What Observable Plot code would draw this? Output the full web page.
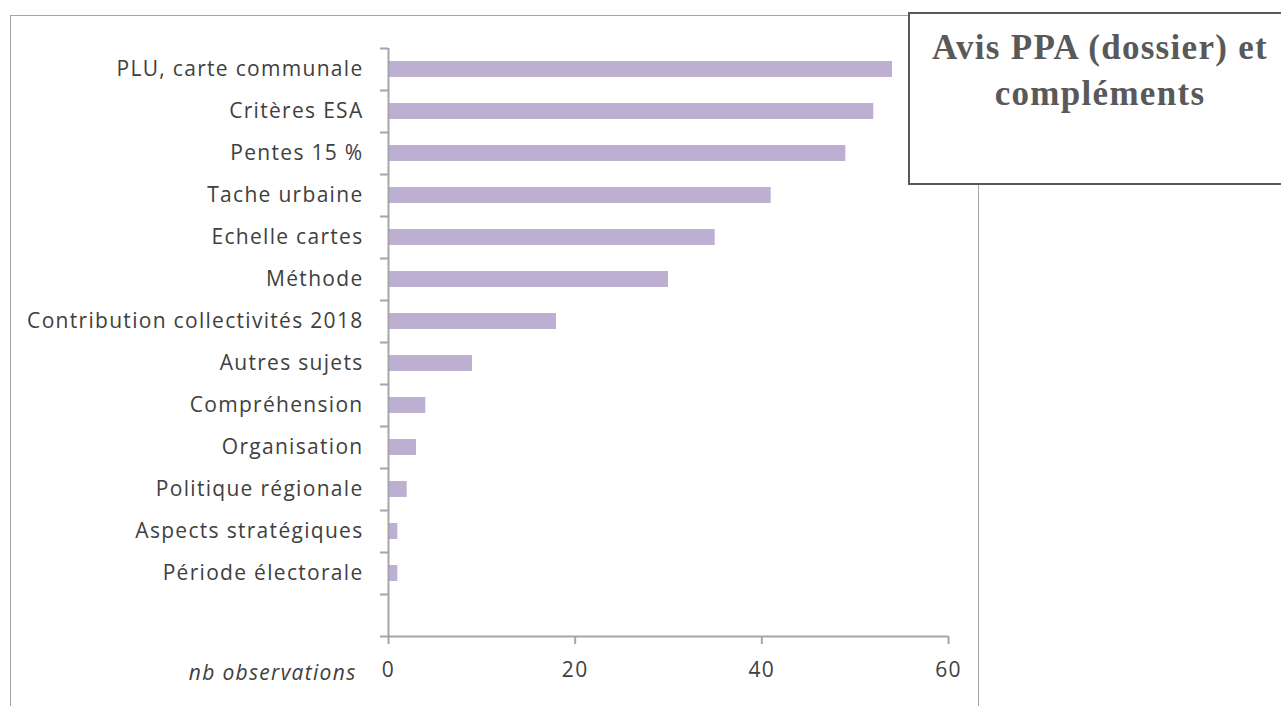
<!DOCTYPE html>
<html>
<head>
<meta charset="utf-8">
<script src="https://cdn.jsdelivr.net/npm/d3@7"></script>
<script src="https://cdn.jsdelivr.net/npm/@observablehq/plot@0.6"></script>
<style>
  html, body { margin: 0; padding: 0; background: #fff; overflow: hidden; }
  #wrap { position: relative; width: 1281px; height: 706px; }
  #frame { position: absolute; left: 10px; top: 15px; width: 969px; height: 800px; border: 1px solid #a6a6a6; box-sizing: border-box; }
  #chart { position: absolute; left: 0; top: 0; }
  #chart svg text { letter-spacing: 1.3px; }
  #title { position: absolute; left: 908px; top: 12px; width: 384px; height: 173px; box-sizing: border-box;
           border: 2px solid #595959; background: #fff; text-align: center;
           font-family: "Liberation Serif", "DejaVu Serif", serif; font-weight: bold; font-size: 35px;
           line-height: 46px; color: #595959; padding-top: 11px; letter-spacing: 1.3px; }
</style>
</head>
<body>
<div id="wrap">
  <div id="frame"></div>
  <div id="chart"></div>
  <div id="title">Avis PPA (dossier) et<br>compléments</div>
</div>
<script>
const categories = [
  "PLU, carte communale",
  "Critères ESA",
  "Pentes 15 %",
  "Tache urbaine",
  "Echelle cartes",
  "Méthode",
  "Contribution collectivités 2018",
  "Autres sujets",
  "Compréhension",
  "Organisation",
  "Politique régionale",
  "Aspects stratégiques",
  "Période électorale"
];
const values = [54, 52, 49, 41, 35, 30, 18, 9, 4, 3, 2, 1, 1];
const xTicks = [0, 20, 40, 60];
const axisTitle = "nb observations";

const nBands = categories.length + 1; // Excel left an empty band below the last category
const data = categories.map((c, i) => ({category: c, value: values[i], index: i}));
const half = 0.19;

const font = "'Open Sans', Lato, sans-serif";
const textColor = "#404040";
const axisColor = "#a6a6a6";

const chart = Plot.plot({
  width: 1281,
  height: 706,
  marginLeft: 388,
  marginRight: 333,
  marginTop: 48,
  marginBottom: 70,
  style: {fontFamily: font, fontSize: "21px", color: textColor, background: "transparent", overflow: "visible"},
  x: {domain: [0, 60]},
  y: {domain: [0, nBands], range: [48, 636]},
  marks: [
    Plot.rectX(data, {
      x1: 0, x2: "value",
      y1: d => d.index + 0.5 - half,
      y2: d => d.index + 0.5 + half,
      fill: "#bdafd1"
    }),
    Plot.ruleX([0], {y1: 0, y2: nBands, stroke: axisColor, strokeWidth: 2}),
    Plot.ruleY([nBands], {x1: 0, x2: 60, stroke: axisColor, strokeWidth: 2}),
    Plot.axisY({
      ticks: d3.range(0, nBands + 1),
      tickSize: 8, tickFormat: () => "",
      stroke: axisColor, strokeWidth: 2
    }),
    Plot.axisY({
      ticks: data.map(d => d.index + 0.5),
      tickSize: 0, tickPadding: 25,
      tickFormat: v => categories[Math.floor(v)],
      fill: textColor, fontSize: 21
    }),
    Plot.axisX({
      ticks: xTicks, tickSize: 8, tickPadding: 18,
      stroke: axisColor, strokeWidth: 2, fill: textColor, fontSize: 21,
      label: null
    }),
    Plot.text([axisTitle], {
      x: 0, y: nBands, text: d => d,
      dx: -32, dy: 37, textAnchor: "end",
      fontStyle: "italic", fontSize: 21, fill: textColor
    })
  ]
});
document.getElementById("chart").appendChild(chart);
</script>
</body>
</html>
